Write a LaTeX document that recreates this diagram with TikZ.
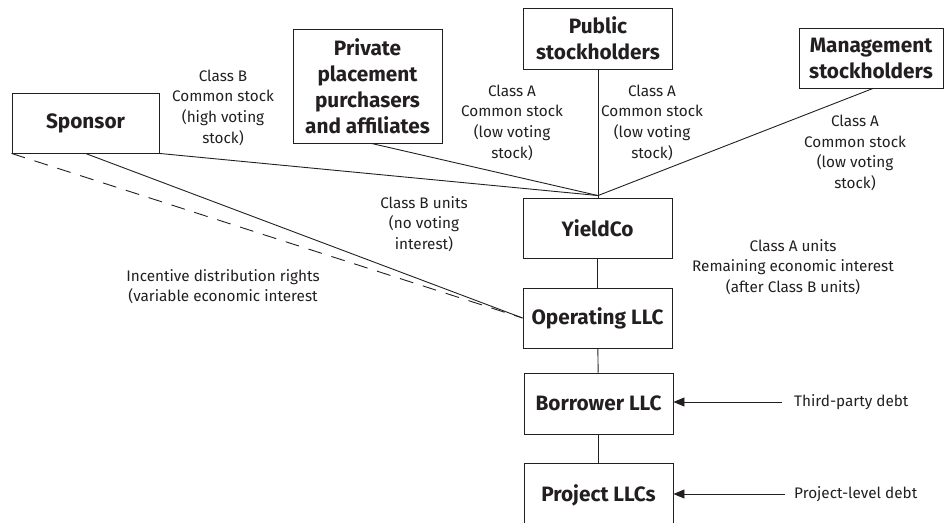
\documentclass[tikz,border=0pt]{standalone}
\usepackage{fontspec}
\setmainfont{Fira Sans}
\usetikzlibrary{arrows.meta,calc}
\newcommand\lblfont{\fontsize{15.3}{20.7}\selectfont}
\newcommand\boxfont{\fontsize{20.8}{26}\selectfont\bfseries}
\definecolor{ink}{HTML}{231F20}
\begin{document}
\begin{tikzpicture}[x=1pt,y=-1pt,
  box/.style={draw=ink, line width=0.9pt, minimum width=149pt, minimum height=60pt, inner sep=0pt, align=center, font=\boxfont, text=ink},
  lbl/.style={align=center, font=\lblfont, text=ink, inner sep=0pt},
  conn/.style={draw=ink, line width=0.9pt},
  arr/.style={conn, -{Triangle[length=11pt,width=9pt]}}]
\useasboundingbox (0,0) rectangle (944,522);
% boxes
\node[box, minimum width=147pt] (sp) at (85.5,123) {Sponsor};
\node[box, minimum height=114pt] (pp) at (367.5,86) {Private\\placement\\purchasers\\and affiliates};
\node[box, minimum height=61pt] (pub) at (598,38.5) {Public\\stockholders};
\node[box, minimum width=144pt] (mg) at (871,58) {Management\\stockholders};
\node[box] (yc) at (597.5,228) {YieldCo};
\node[box] (op) at (597.5,318) {Operating LLC};
\node[box, minimum height=61pt] (bl) at (598.5,403.5) {Borrower LLC};
\node[box, minimum height=64pt] (pl) at (598.5,495) {Project LLCs};
% junction
\coordinate (j) at ($(yc.north)+(0.5,-2)$);
\draw[conn] (sp.south east) -- (j);
\draw[conn] ($(pp.south)+(4,0)$) -- (j);
\draw[conn] (pub.south) -- (j);
\draw[conn] ($(mg.south)+(2,0)$) -- (j);
\draw[conn] (j) -- ($(yc.north)+(0.5,0)$);
\draw[conn] (yc) -- (op);
\draw[conn] (op) -- (bl);
\draw[conn] (bl) -- (pl);
\draw[conn] (sp.south) -- (op.west);
\draw[conn, dash pattern=on 14pt off 10pt] (sp.south west) -- (op.west);
% debt arrows
\coordinate (tp) at (782,402);
\coordinate (pd) at (785,494);
\draw[arr] (tp) -- (bl.east |- tp);
\draw[arr] (pd) -- (pl.east |- pd);
% labels
\node[lbl] (l1) at (223,107.5) {Class B\\Common stock\\(high voting\\stock)};
\node[lbl] (l2) at (512,122.5) {Class A\\Common stock\\(low voting\\stock)};
\node[lbl] (l3) at (652,122.5) {Class A\\Common stock\\(low voting\\stock)};
\node[lbl] (l4) at (855,153) {Class A\\Common stock\\(low voting\\stock)};
\node[lbl] (l5) at (424,224) {Class B units\\(no voting\\interest)};
\node[lbl] (l6) at (793,267) {Class A units\\Remaining economic interest\\(after Class B units)};
\node[lbl] (l7) at (223,286.5) {Incentive distribution rights\\(variable economic interest};
\node[lbl, anchor=west] (l8) at (794,402) {Third-party debt};
\node[lbl, anchor=west] (l9) at (794,494) {Project-level debt};
\end{tikzpicture}
\end{document}
